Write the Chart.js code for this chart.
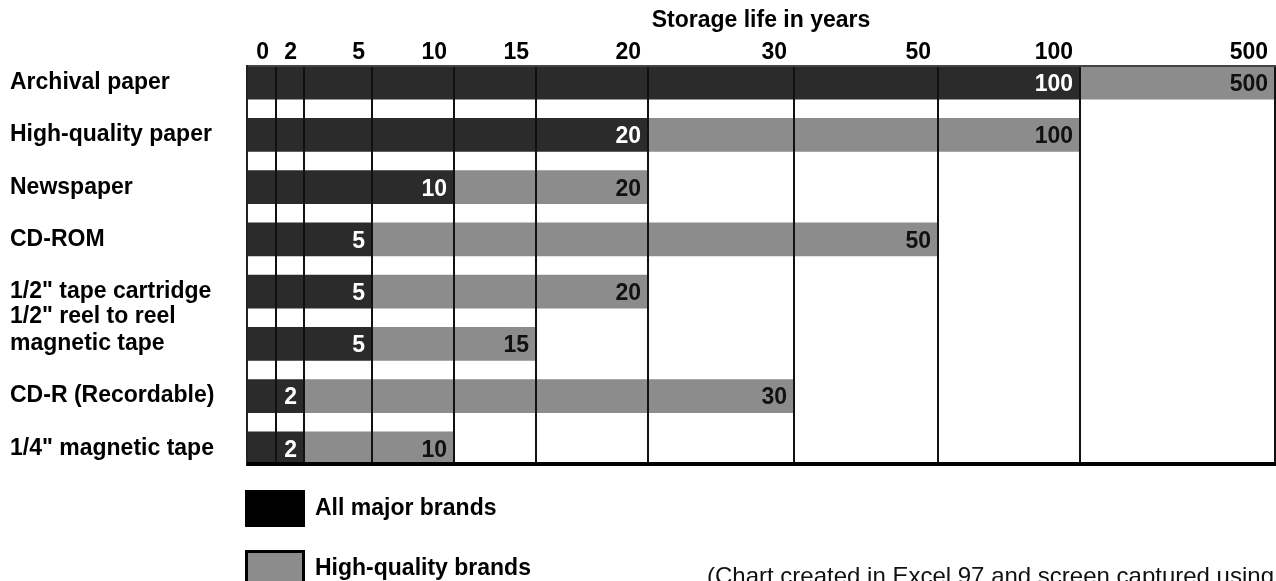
<!DOCTYPE html>
<html lang="en">
<head>
<meta charset="UTF-8">
<title>Storage life in years</title>
<script src="https://cdn.jsdelivr.net/npm/chart.js"></script>
<style>
  html, body { margin: 0; padding: 0; background: #fff; }
  canvas { display: block; }
</style>
</head>
<body>
<canvas id="lifeChart" width="1276" height="581"></canvas>
<script>
// storage media, top to bottom
const media = [
  'Archival paper',
  'High-quality paper',
  'Newspaper',
  'CD-ROM',
  '1/2" tape cartridge',
  ['1/2" reel to reel', 'magnetic tape', ''],
  'CD-R (Recordable)',
  '1/4" magnetic tape'
];
// storage life in years
const allMajor = [100, 20, 10, 5, 5, 5, 2, 2];
const highQuality = [500, 100, 20, 50, 20, 15, 30, 10];
// steps on the (not to scale) year axis
const yearSteps = [0, 2, 5, 10, 15, 20, 30, 50, 100, 500];
// screen width of each step column
const stepWidths = [29, 28, 68, 82, 82, 112, 146, 144, 142, 195];
const X_MIN = -1;

const FONT = '"Liberation Sans", Arial, sans-serif';
const BLACK = '#2b2b2b';
const GREY = '#8c8c8c';

// year axis: every step gets its own column, value sits at the column's right edge
class StepScale extends Chart.LinearScale {
  static id = 'steps';
  static defaults = {};
  buildTicks() {
    return yearSteps.map(v => ({ value: v }));
  }
  getPixelForValue(value) {
    const knots = [this.min, ...yearSteps];
    const total = stepWidths.reduce((a, b) => a + b, 0);
    if (value <= knots[0]) return this.left;
    let acc = 0;
    for (let i = 1; i < knots.length; i++) {
      if (value <= knots[i]) {
        const f = (value - knots[i - 1]) / (knots[i] - knots[i - 1]);
        return this.left + (acc + f * stepWidths[i - 1]) / total * this.width;
      }
      acc += stepWidths[i - 1];
    }
    return this.right;
  }
  getValueForPixel(pixel) {
    const knots = [this.min, ...yearSteps];
    const total = stepWidths.reduce((a, b) => a + b, 0);
    let pos = (pixel - this.left) / this.width * total;
    for (let i = 1; i < knots.length; i++) {
      const w = stepWidths[i - 1];
      if (pos <= w) return knots[i - 1] + pos / w * (knots[i] - knots[i - 1]);
      pos -= w;
    }
    return this.max;
  }
}
Chart.register(StepScale);

const valueLabels = {
  id: 'valueLabels',
  afterDatasetsDraw(chart) {
    const ctx = chart.ctx;
    ctx.save();
    ctx.font = 'bold 23px ' + FONT;
    ctx.textAlign = 'right';
    ctx.textBaseline = 'middle';
    [allMajor, highQuality].forEach((values, d) => {
      ctx.fillStyle = d === 0 ? '#ffffff' : '#111111';
      chart.getDatasetMeta(d).data.forEach((bar, i) => {
        ctx.fillText(String(values[i]), bar.x - 7, bar.y + 2);
      });
    });
    ctx.restore();
  }
};

const frameAndLegend = {
  id: 'frameAndLegend',
  afterDraw(chart) {
    const ctx = chart.ctx;
    const area = chart.chartArea;
    ctx.save();
    // heavy bottom rule of the plot
    ctx.fillStyle = '#000';
    ctx.fillRect(area.left, area.bottom - 3, area.right - area.left + 1, 4);

    // legend, stacked under the plot
    ctx.font = 'bold 23px ' + FONT;
    ctx.textBaseline = 'middle';
    ctx.textAlign = 'left';
    const boxX = area.left - 2;
    chart.data.datasets.forEach((ds, i) => {
      const top = 490 + i * 60;
      if (i === 0) {
        ctx.fillStyle = '#000';
        ctx.fillRect(boxX, top, 60, 37);
      } else {
        ctx.fillStyle = GREY;
        ctx.fillRect(boxX, top, 60, 37);
        ctx.strokeStyle = '#000';
        ctx.lineWidth = 3;
        ctx.strokeRect(boxX + 1.5, top + 1.5, 57, 34);
      }
      ctx.fillStyle = '#000';
      ctx.fillText(ds.label, boxX + 70, top + 19);
    });

    // note at the bottom
    ctx.font = '24px ' + FONT;
    ctx.textBaseline = 'alphabetic';
    ctx.fillStyle = '#111';
    ctx.fillText('(Chart created in Excel 97 and screen captured using', 707, 584);
    ctx.restore();
  }
};

const ctx = document.getElementById('lifeChart').getContext('2d');
const lifeChart = new Chart(ctx, {
  type: 'bar',
  data: {
    datasets: [{
      label: 'All major brands',
      data: allMajor.map((v, i) => ({ y: i, x: v })),
      base: X_MIN,
      backgroundColor: BLACK,
      grouped: false,
      barThickness: 33
    }, {
      label: 'High-quality brands',
      data: highQuality.map((v, i) => ({ y: i, x: [allMajor[i], v] })),
      backgroundColor: GREY,
      grouped: false,
      barThickness: 33
    }]
  },
  options: {
    indexAxis: 'y',
    responsive: false,
    devicePixelRatio: 1,
    animation: false,
    layout: { padding: { left: 10, right: 1, top: 0, bottom: 116 } },
    plugins: {
      legend: { display: false },
      tooltip: { enabled: false }
    },
    scales: {
      x: {
        type: 'steps',
        position: 'top',
        min: X_MIN,
        max: 500,
        stacked: false,
        afterFit: (scale) => { scale.height = 66; },
        title: {
          display: true,
          text: 'Storage life in years',
          color: '#000',
          font: { family: FONT, size: 23, weight: 'bold' },
          padding: { top: 7, bottom: 0 }
        },
        ticks: {
          color: '#000',
          font: { family: FONT, size: 23, weight: 'bold' },
          align: 'end',
          labelOffset: -7,
          padding: 0,
          autoSkip: false,
          maxRotation: 0,
          callback: (v) => String(v)
        },
        grid: { color: '#111', lineWidth: 2, drawTicks: false, z: 1 },
        border: { color: '#444', width: 2, z: 1 }
      },
      y: {
        type: 'linear',
        reverse: true,
        offset: false,
        min: -0.32,
        max: media.length - 1 + 0.32,
        afterBuildTicks: (scale) => {
          scale.ticks = media.map((m, i) => ({ value: i }));
        },
        afterFit: (scale) => { scale.width = 237; },
        ticks: {
          color: '#000',
          font: { family: FONT, size: 23, weight: 'bold', lineHeight: 1.18 },
          crossAlign: 'far',
          autoSkip: false,
          callback: (v) => media[v]
        },
        grid: { display: false, offset: false },
        border: { color: '#222', width: 2, z: 1 }
      }
    }
  },
  plugins: [valueLabels, frameAndLegend]
});
</script>
</body>
</html>
